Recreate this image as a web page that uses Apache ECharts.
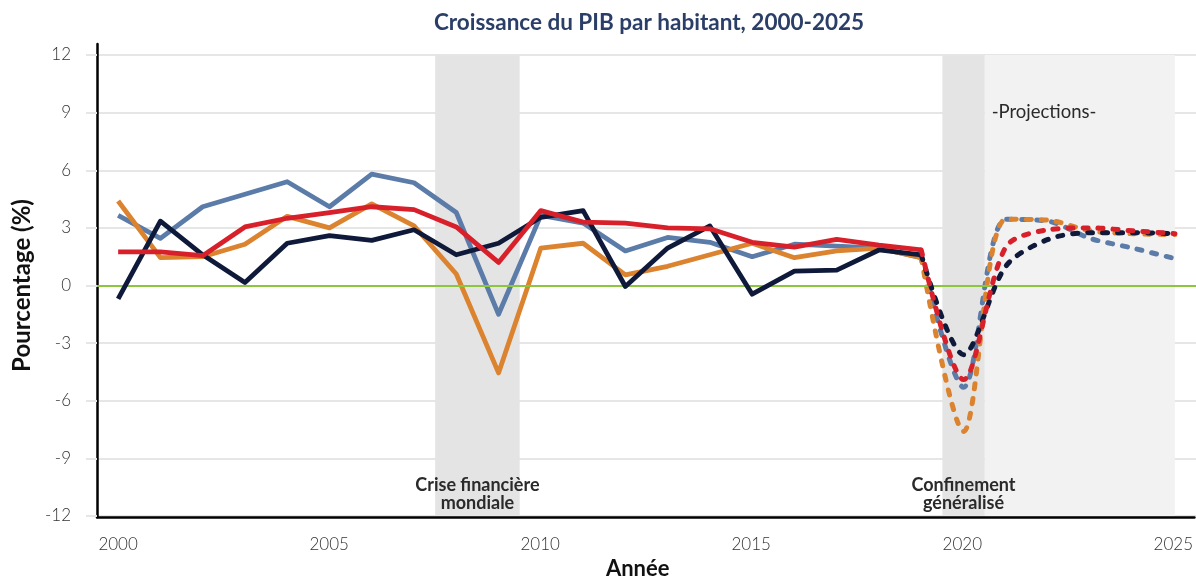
<!DOCTYPE html>
<html lang="fr">
<head>
<meta charset="utf-8">
<title>Croissance du PIB par habitant, 2000-2025</title>
<script src="https://cdn.jsdelivr.net/npm/echarts@6/dist/echarts.min.js"></script>
<style>
  html, body { margin: 0; padding: 0; background: #fff; }
  #chart { width: 1196px; height: 585px; }
</style>
</head>
<body>
<div id="chart"></div>
<script>
// années et valeurs (%)
const years = [2000, 2001, 2002, 2003, 2004, 2005, 2006, 2007, 2008, 2009, 2010, 2011, 2012,
  2013, 2014, 2015, 2016, 2017, 2018, 2019, 2020, 2021, 2022, 2023, 2024, 2025];
const serieMarine = [-0.7, 3.35, 1.6, 0.15, 2.2, 2.6, 2.35, 2.9, 1.6, 2.2, 3.55, 3.9, -0.05,
  1.95, 3.1, -0.45, 0.75, 0.8, 1.85, 1.6, -3.6, 1.0, 2.4, 2.75, 2.75, 2.7];
const serieBleue = [3.65, 2.45, 4.1, 4.75, 5.4, 4.1, 5.8, 5.35, 3.8, -1.5, 3.65, 3.25, 1.8,
  2.5, 2.25, 1.5, 2.15, 2.05, 1.95, 1.45, -5.3, 3.45, 3.35, 2.45, 1.95, 1.4];
const serieOrange = [4.4, 1.45, 1.5, 2.15, 3.6, 3.0, 4.25, 3.1, 0.6, -4.55, 1.95, 2.2, 0.55,
  1.0, 1.6, 2.2, 1.45, 1.8, 1.95, 1.45, -7.6, 3.45, 3.4, 2.85, 2.7, 2.65];
const serieRouge = [1.75, 1.75, 1.55, 3.05, 3.5, 3.8, 4.1, 3.95, 3.05, 1.2, 3.9, 3.3, 3.25,
  3.0, 2.95, 2.25, 2.0, 2.4, 2.1, 1.85, -4.9, 2.0, 2.9, 3.0, 2.85, 2.7];
const lastActualYear = 2019;   // après : projections (pointillés)
const yMin = -12, yMax = 12, yStep = 3;

// périodes grisées
const crise = [2007.5, 2009.5];
const confinement = [2019.5, 2020.5];
const projections = [2020.5, 2025];

const FONT = 'Lato, "Noto Sans", sans-serif';

const chart = echarts.init(document.getElementById('chart'));

const seriesDefs = [
  { name: 'Série bleue', values: serieBleue, color: '#5b7ba8' },
  { name: 'Série orange', values: serieOrange, color: '#db832e' },
  { name: 'Série marine', values: serieMarine, color: '#0f1a3b' },
  { name: 'Série rouge', values: serieRouge, color: '#d8202a' }
];

function pairs(values, from, to) {
  return years.map((y, i) => [y, values[i]]).filter(p => p[0] >= from && p[0] <= to);
}

const lineSeries = [];
seriesDefs.forEach((s, k) => {
  lineSeries.push({
    name: s.name, type: 'line', xAxisIndex: 0, yAxisIndex: 0,
    data: pairs(s.values, years[0], lastActualYear),
    symbol: 'none', z: 3 + k, silent: true,
    lineStyle: { color: s.color, width: 4.8, join: 'round' },
    itemStyle: { color: s.color }
  });
  lineSeries.push({
    name: s.name, type: 'line', xAxisIndex: 0, yAxisIndex: 0,
    data: pairs(s.values, lastActualYear, years[years.length - 1]),
    symbol: 'none', z: 3 + k, silent: true, smooth: 0.3,
    lineStyle: { color: s.color, width: 5, type: [5, 10], cap: 'round', join: 'round' },
    itemStyle: { color: s.color }
  });
});

const annoLabel = { fontFamily: FONT, fontWeight: 'bold', fontSize: 18, color: '#2a2a2a', lineHeight: 18 };

const option = {
  animation: false,
  title: {
    text: 'Croissance du PIB par habitant, 2000-2025',
    left: 649, top: 11, textAlign: 'center', padding: 0,
    textStyle: { fontFamily: FONT, fontWeight: 'bold', fontSize: 22.5, color: '#2b3e67' }
  },
  grid: [
    { left: 97, right: 0, top: 55, bottom: 69 },
    { left: 97, right: 0, top: 44, bottom: 57 }
  ],
  xAxis: [
    { gridIndex: 0, type: 'value', min: 1999.5, max: 2025.5, show: false },
    {
      gridIndex: 1, type: 'category', data: years.map(String), boundaryGap: true,
      axisLine: { lineStyle: { color: '#000', width: 2.5 } },
      axisTick: { show: false },
      axisLabel: { interval: 4, margin: 19, fontSize: 17, fontWeight: 300, color: '#333', fontFamily: FONT },
      splitLine: { show: false },
      name: 'Année', nameLocation: 'middle', nameGap: 37,
      nameTextStyle: { fontFamily: FONT, fontSize: 22, fontWeight: 'bold', color: '#111', padding: [0, 16, 0, 0] }
    }
  ],
  yAxis: [
    {
      gridIndex: 0, type: 'value', min: yMin, max: yMax, interval: yStep,
      axisLine: { show: false },
      axisTick: { show: true, length: 11, lineStyle: { color: '#e6e6e6', width: 2 } },
      axisLabel: { margin: 26, fontSize: 17, fontWeight: 300, color: '#333', fontFamily: FONT },
      splitLine: { lineStyle: { color: '#e6e6e6', width: 2 } },
      name: 'Pourcentage (%)', nameLocation: 'middle', nameGap: 62,
      nameTextStyle: { fontFamily: FONT, fontSize: 24, fontWeight: 'bold', color: '#111' }
    },
    {
      gridIndex: 1, type: 'value', min: 0, max: 1,
      axisLine: { show: true, lineStyle: { color: '#000', width: 2.5 } },
      axisLabel: { show: false }, axisTick: { show: false }, splitLine: { show: false }
    }
  ],
  series: [
    {
      type: 'line', data: [], xAxisIndex: 0, yAxisIndex: 0, z: 1, silent: true,
      markArea: {
        silent: true,
        label: annoLabel,
        data: [
          [{ xAxis: crise[0], yAxis: yMin, name: 'Crise financière\nmondiale',
             itemStyle: { color: '#e4e4e4' }, label: { position: 'insideBottom', distance: 4 } },
           { xAxis: crise[1], yAxis: yMax }],
          [{ xAxis: projections[0], yAxis: yMin, name: '-Projections-',
             itemStyle: { color: '#f2f2f2' }, label: { position: [7, 48], fontWeight: 'normal', fontSize: 18.5 } },
           { xAxis: projections[1], yAxis: yMax }],
          [{ xAxis: confinement[0], yAxis: yMin, name: 'Confinement\ngénéralisé',
             itemStyle: { color: '#e4e4e4' }, label: { position: 'insideBottom', distance: 4 } },
           { xAxis: confinement[1], yAxis: yMax }]
        ]
      }
    },
    {
      type: 'line', data: [], xAxisIndex: 0, yAxisIndex: 0, z: 2, silent: true,
      markLine: {
        silent: true, symbol: 'none', label: { show: false },
        lineStyle: { color: '#8cc63e', width: 2, type: 'solid' },
        data: [{ yAxis: 0 }]
      }
    }
  ].concat(lineSeries)
};

chart.setOption(option);
window.addEventListener('resize', () => chart.resize());
</script>
</body>
</html>
